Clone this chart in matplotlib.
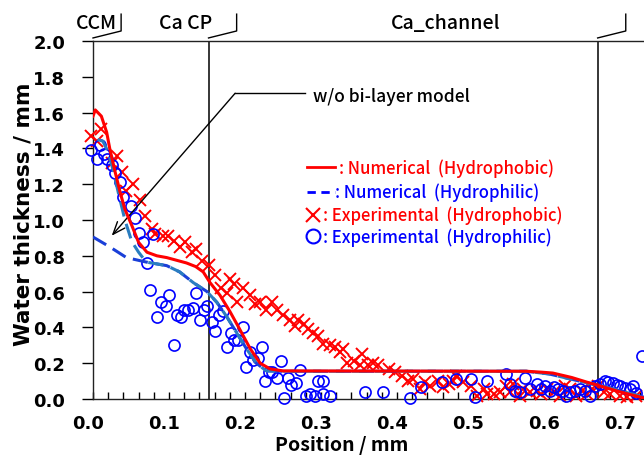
import matplotlib
matplotlib.use("Agg")
import matplotlib.pyplot as plt
from matplotlib.ticker import MultipleLocator
from matplotlib.transforms import ScaledTranslation

plt.rcParams["font.family"] = ["Noto Sans CJK JP", "DejaVu Sans"]

# Numerical (hydrophobic)
num_phob_x = [0.0, 0.003, 0.011, 0.018, 0.022, 0.029, 0.036, 0.042, 0.051, 0.06,
              0.071, 0.084, 0.097, 0.11, 0.123, 0.135, 0.145, 0.154, 0.167, 0.18,
              0.193, 0.207, 0.22, 0.233, 0.25, 0.57, 0.59, 0.605, 0.63, 0.65,
              0.667, 0.693, 0.725]
num_phob_y = [1.58, 1.615, 1.58, 1.49, 1.40, 1.27, 1.15, 1.06, 0.97, 0.875,
              0.82, 0.80, 0.79, 0.775, 0.76, 0.74, 0.71, 0.65, 0.58, 0.49,
              0.39, 0.28, 0.20, 0.168, 0.157, 0.155, 0.15, 0.145, 0.12, 0.094,
              0.073, 0.04, 0.005]

# Numerical (hydrophilic), common tail
phil_tail_x = [0.07, 0.097, 0.114, 0.132, 0.15, 0.163, 0.176, 0.189, 0.202, 0.215,
               0.228, 0.25, 0.57, 0.6, 0.63, 0.65, 0.667, 0.69, 0.725]
phil_tail_y = [0.765, 0.745, 0.71, 0.65, 0.6, 0.54, 0.46, 0.37, 0.28, 0.2,
               0.157, 0.155, 0.155, 0.14, 0.11, 0.09, 0.075, 0.05, 0.01]
# with bi-layer model start
phil_bi_x = [0.006, 0.013, 0.02, 0.027, 0.034, 0.042, 0.051, 0.06]
phil_bi_y = [1.45, 1.44, 1.38, 1.27, 1.14, 1.0, 0.88, 0.82]
# w/o bi-layer model start
phil_wo_x = [0.0, 0.022, 0.044]
phil_wo_y = [0.905, 0.85, 0.79]

# Experimental (hydrophobic)
exp_phob_x = [-0.002, 0.011, 0.005, 0.031, 0.025, 0.038, 0.053, 0.044, 0.062, 0.068,
              0.077, 0.082, 0.092, 0.099, 0.106, 0.114, 0.121, 0.13, 0.136, 0.143,
              0.152, 0.16, 0.169, 0.176, 0.18, 0.185, 0.189, 0.198, 0.207, 0.213,
              0.22, 0.228, 0.235, 0.242, 0.25, 0.259, 0.266, 0.27, 0.277, 0.283,
              0.29, 0.296, 0.303, 0.312, 0.318, 0.325, 0.329, 0.334, 0.343, 0.351,
              0.354, 0.362, 0.369, 0.375, 0.389, 0.397, 0.406, 0.415, 0.421, 0.43,
              0.437, 0.443, 0.454, 0.461, 0.468, 0.474, 0.478, 0.487, 0.498, 0.505,
              0.514, 0.518, 0.527, 0.536, 0.544, 0.549, 0.553, 0.562, 0.566, 0.575,
              0.584, 0.59, 0.597, 0.606, 0.614, 0.621, 0.628, 0.636, 0.643, 0.65,
              0.656, 0.665, 0.672, 0.68, 0.693, 0.702, 0.715]
exp_phob_y = [1.47, 1.51, 1.44, 1.36, 1.32, 1.27, 1.20, 1.16, 1.11, 1.02,
              0.95, 0.92, 0.91, 0.91, 0.88, 0.85, 0.875, 0.82, 0.84, 0.77,
              0.75, 0.69, 0.62, 0.59, 0.67, 0.64, 0.54, 0.62, 0.58, 0.53,
              0.54, 0.50, 0.54, 0.50, 0.47, 0.44, 0.41, 0.44, 0.42, 0.39,
              0.37, 0.35, 0.31, 0.30, 0.29, 0.26, 0.28, 0.20, 0.21, 0.19,
              0.25, 0.19, 0.20, 0.19, 0.17, 0.15, 0.13, 0.10, 0.11, 0.056,
              0.093, 0.074, 0.10, 0.065, 0.084, 0.10, 0.13, 0.093, 0.074, 0.018,
              0.056, 0.028, 0.028, 0.037, 0.074, 0.037, 0.084, 0.018, 0.056, 0.037,
              0.046, 0.028, 0.056, 0.037, 0.018, 0.074, 0.056, 0.018, 0.046, 0.028,
              0.056, 0.074, 0.037, 0.028, 0.018, 0.009, 0.018]

# Experimental (hydrophilic)
exp_phil_x = [-0.002, 0.005, 0.009, 0.014, 0.018, 0.025, 0.029, 0.036, 0.04, 0.05,
              0.055, 0.06, 0.066, 0.071, 0.075, 0.079, 0.084, 0.09, 0.096, 0.10,
              0.106, 0.11, 0.116, 0.12, 0.125, 0.131, 0.136, 0.141, 0.146, 0.15,
              0.156, 0.161, 0.166, 0.171, 0.176, 0.182, 0.186, 0.191, 0.197, 0.201,
              0.206, 0.211, 0.217, 0.222, 0.226, 0.231, 0.236, 0.242, 0.247, 0.251,
              0.256, 0.261, 0.267, 0.272, 0.28, 0.286, 0.292, 0.296, 0.303, 0.303,
              0.312, 0.358, 0.382, 0.417, 0.432, 0.459, 0.478, 0.498, 0.503, 0.518,
              0.544, 0.549, 0.555, 0.562, 0.568, 0.575, 0.584, 0.59, 0.595, 0.601,
              0.606, 0.612, 0.619, 0.623, 0.628, 0.634, 0.641, 0.647, 0.654, 0.661,
              0.667, 0.674, 0.678, 0.684, 0.689, 0.694, 0.70, 0.706, 0.71, 0.715,
              0.722]
exp_phil_y = [1.39, 1.34, 1.42, 1.37, 1.34, 1.31, 1.26, 1.21, 1.13, 1.08,
              1.01, 0.93, 0.875, 0.76, 0.61, 0.92, 0.46, 0.54, 0.52, 0.58,
              0.30, 0.47, 0.46, 0.50, 0.50, 0.51, 0.59, 0.44, 0.50, 0.52,
              0.43, 0.38, 0.47, 0.49, 0.29, 0.37, 0.33, 0.33, 0.40, 0.18,
              0.26, 0.22, 0.23, 0.29, 0.10, 0.15, 0.15, 0.12, 0.21, 0.004,
              0.12, 0.08, 0.09, 0.16, 0.015, 0.03, 0.015, 0.10, 0.10, 0.028,
              0.018, 0.037, 0.04, 0.006, 0.065, 0.093, 0.11, 0.11, 0.009, 0.10,
              0.14, 0.084, 0.046, 0.037, 0.12, 0.056, 0.084, 0.056, 0.074, 0.046,
              0.065, 0.056, 0.046, 0.018, 0.037, 0.046, 0.056, 0.046, 0.018, 0.074,
              0.084, 0.10, 0.093, 0.09, 0.08, 0.07, 0.06, 0.056, 0.074, 0.034,
              0.24]

region_lines = [0.0, 0.152, 0.664]
region_names = ["CCM", "Ca CP", "Ca_channel"]
region_label_x = [0.005, 0.122, 0.464]

RED = "#FF0000"
BLUE = "#0000FF"
BLUE_WO = "#1A3FD8"
TEAL = "#2A7DC0"

fig = plt.figure(figsize=(6.44, 4.64), dpi=100)
ax = fig.add_axes([93 / 644, 64 / 464, 551 / 644, 358 / 464])

# experimental points
ax.plot(exp_phob_x, exp_phob_y, linestyle="none", marker="x", ms=8.5, mew=1.4,
        color=RED, clip_on=False, zorder=3)
ax.plot(exp_phil_x, exp_phil_y, linestyle="none", marker="o", ms=8, mew=1.2,
        mfc="none", mec=BLUE, clip_on=False, zorder=3)

# numerical curves
ax.plot(phil_wo_x + phil_tail_x, phil_wo_y + phil_tail_y, color=BLUE_WO, lw=2.2,
        dashes=(5, 2.5), zorder=4)
ax.plot(phil_bi_x + phil_tail_x, phil_bi_y + phil_tail_y, color=TEAL, lw=2.2,
        dashes=(5, 2.5), zorder=4)
ax.plot(num_phob_x, num_phob_y, color=RED, lw=2.2, zorder=5)

# region boundaries and header callouts
for xb in region_lines:
    ax.axvline(xb, color="black", lw=1.1, zorder=2)
    ax.plot([xb, xb + 0.037, xb + 0.037], [2.017, 2.056, 2.15], color="black",
            lw=1.0, clip_on=False)
for name, xl in zip(region_names, region_label_x):
    ax.text(xl, 2.105, name, ha="center", va="center", fontsize=14,
            fontweight="medium", clip_on=False)

# legend written as text
ax.plot([0.281, 0.318], [1.294, 1.294], color=RED, lw=2)
ax.text(0.324, 1.294, ": Numerical  (Hydrophobic)", color=RED, fontsize=12,
        fontweight="medium", va="center")
ax.plot([0.281, 0.318], [1.158, 1.158], color=BLUE, lw=2, dashes=(3, 2))
ax.text(0.319, 1.158, ": Numerical  (Hydrophilic)", color=BLUE, fontsize=12,
        fontweight="medium", va="center")
ax.plot([0.290], [1.028], marker="x", ms=10, mew=1.5, color=RED)
ax.text(0.302, 1.028, ": Experimental  (Hydrophobic)", color=RED, fontsize=12,
        fontweight="medium", va="center")
ax.plot([0.290], [0.909], marker="o", ms=10, mew=1.5, mfc="none", mec=BLUE)
ax.text(0.302, 0.909, ": Experimental  (Hydrophilic)", color=BLUE, fontsize=12,
        fontweight="medium", va="center")

# annotation for w/o bi-layer model
ax.plot([0.187, 0.279], [1.708, 1.708], color="black", lw=1.0)
ax.annotate("", xy=(0.0246, 0.912), xytext=(0.187, 1.708),
            arrowprops=dict(arrowstyle="->,head_length=0.9,head_width=0.35",
                            color="black", lw=1.0, shrinkA=0, shrinkB=0))
ax.text(0.289, 1.69, "w/o bi-layer model", fontsize=12.5, fontweight="medium",
        va="center")

ax.set_xlim(0, 0.725)
ax.set_ylim(0, 2.0)
ax.xaxis.set_major_locator(MultipleLocator(0.1))
ax.xaxis.set_minor_locator(MultipleLocator(0.02))
ax.yaxis.set_major_locator(MultipleLocator(0.2))
ax.xaxis.set_major_formatter(lambda v, p: f"{v:.1f}")
ax.yaxis.set_major_formatter(lambda v, p: f"{v:.1f}")
ax.tick_params(axis="x", which="both", direction="in", length=5, width=1,
               pad=11, labelsize=13)
ax.tick_params(axis="y", which="major", direction="out", length=8, width=1,
               pad=12, labelsize=13)
shift = ScaledTranslation(-0.05, 0, fig.dpi_scale_trans)
for lab in ax.get_xticklabels():
    lab.set_transform(lab.get_transform() + shift)
for lab in ax.get_xticklabels() + ax.get_yticklabels():
    lab.set_fontweight("bold")
    lab.set_fontfamily("DejaVu Sans")

ax.spines["right"].set_visible(False)
for side in ["left", "top", "bottom"]:
    ax.spines[side].set_linewidth(1.0)
    ax.spines[side].set_color("#222222")

ax.set_xlabel("Position / mm", fontsize=14, fontweight="bold")
ax.set_ylabel("Water thickness / mm", fontsize=15.5, fontweight="bold",
              fontfamily="DejaVu Sans")
ax.xaxis.set_label_coords((342 - 93) / 551, -(436 - 400) / 358)
ax.yaxis.set_label_coords(-(93 - 34) / 551, (400 - 214) / 358)

fig.savefig("out.png", dpi=100)
